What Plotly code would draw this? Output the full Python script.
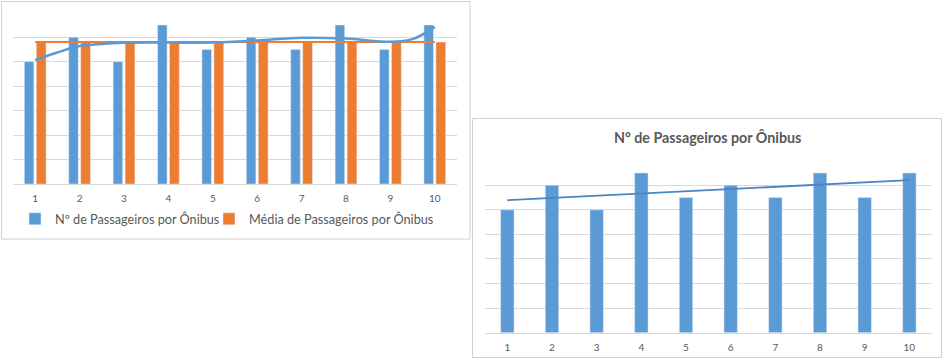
import plotly.graph_objects as go
import numpy as np

W, H = 944, 360

# ---- data ----
onibus = [1, 2, 3, 4, 5, 6, 7, 8, 9, 10]
passageiros = [10, 12, 10, 13, 11, 12, 11, 13, 11, 13]
media = [11.6, 11.6, 11.6, 11.6, 11.6, 11.6, 11.6, 11.6, 11.6, 11.6]
# polynomial trendline (chart 1)
curva_x = [1, 1.5, 2, 2.5, 3, 4, 5, 6, 7, 8, 9, 9.5, 10]
curva_y = [10.12, 10.75, 11.27, 11.45, 11.54, 11.56, 11.56, 11.73, 11.95, 11.89, 11.62, 11.84, 12.84]
tick_labels = ["1", "2", "3", "4", "5", "6", "7", "8", "9", "10"]

titulo = "Nº de Passageiros por Ônibus"
nome_serie1 = "Nº de Passageiros por Ônibus"
nome_serie2 = "Média de Passageiros por Ônibus"

AZUL = "#5B9BD5"
LARANJA = "#ED7D31"
CINZA_TXT = "#595959"
GRADE = "#d9d9d9"
FONT = "Lato, 'Open Sans', sans-serif"

# linear trendline (chart 2) from the data
coef = np.polyfit(onibus, passageiros, 1)
tend = [coef[0] * x + coef[1] for x in onibus]

def px(x):
    return x / W

def py(y):
    return 1 - y / H

fig = go.Figure()

# chart 1
fig.add_trace(go.Bar(x=onibus, y=passageiros, name=nome_serie1, marker_color=AZUL,
                     width=0.215, offset=-0.245, xaxis="x", yaxis="y", legend="legend"))
fig.add_trace(go.Bar(x=onibus, y=media, name=nome_serie2, marker_color=LARANJA,
                     width=0.22, offset=0.025, xaxis="x", yaxis="y", legend="legend2"))
fig.add_trace(go.Scatter(x=onibus, y=media, mode="lines", line=dict(color=LARANJA, width=2),
                         showlegend=False, xaxis="x", yaxis="y", hoverinfo="skip"))
fig.add_trace(go.Scatter(x=curva_x, y=curva_y, mode="lines",
                         line=dict(color=AZUL, width=2.5, shape="spline", smoothing=1.0),
                         showlegend=False, xaxis="x", yaxis="y", hoverinfo="skip"))

# chart 2
fig.add_trace(go.Bar(x=onibus, y=passageiros, name=nome_serie1, marker_color=AZUL,
                     width=0.3, offset=-0.15, xaxis="x2", yaxis="y2", showlegend=False))
fig.add_trace(go.Scatter(x=onibus, y=tend, mode="lines", line=dict(color="#4a86c0", width=1.8),
                         showlegend=False, xaxis="x2", yaxis="y2", hoverinfo="skip"))

xcommon = dict(tickmode="array", tickvals=onibus, ticktext=tick_labels, range=[0.5, 10.5],
               showgrid=False, zeroline=False, showline=True, linecolor=GRADE, linewidth=1,
               ticks="outside", ticklen=5, tickcolor="rgba(0,0,0,0)",
               tickfont=dict(family=FONT, size=10, color=CINZA_TXT))
ycommon = dict(range=[0, 14], dtick=2, showgrid=True, gridcolor=GRADE, gridwidth=1,
               zeroline=False, showticklabels=False, showline=False)

legend_common = dict(orientation="h", xanchor="left", yanchor="top",
                     font=dict(family=FONT, size=12.7, color=CINZA_TXT),
                     bgcolor="rgba(0,0,0,0)", itemwidth=30)

fig.update_layout(
    width=W, height=H,
    margin=dict(l=0, r=0, t=0, b=0),
    paper_bgcolor="white", plot_bgcolor="white",
    barmode="overlay",
    font=dict(family=FONT, color=CINZA_TXT),
    xaxis=dict(domain=[px(13), px(457)], anchor="y", **xcommon),
    yaxis=dict(domain=[py(184), py(12.7)], anchor="x", **ycommon),
    xaxis2=dict(domain=[px(485), px(931.7)], anchor="y2", **xcommon),
    yaxis2=dict(domain=[py(332.7), py(160.7)], anchor="x2", **ycommon),
    legend=dict(x=px(15), y=py(204), **legend_common),
    legend2=dict(x=px(209), y=py(204), **legend_common),
    showlegend=True,
    annotations=[dict(text="<b>" + titulo + "</b>", xref="paper", yref="paper",
                      x=px(707.5), y=py(137), xanchor="center", yanchor="middle",
                      showarrow=False, font=dict(family=FONT, size=14.3, color=CINZA_TXT))],
    shapes=[
        dict(type="rect", xref="paper", yref="paper", x0=px(1.5), x1=px(470), y0=py(239), y1=py(1.5),
             line=dict(color="#d0d0d0", width=1), fillcolor="rgba(0,0,0,0)", layer="below"),
        dict(type="rect", xref="paper", yref="paper", x0=px(472.5), x1=px(941.5), y0=py(357.5), y1=py(118.5),
             line=dict(color="#d0d0d0", width=1), fillcolor="rgba(0,0,0,0)", layer="below"),
    ],
)

fig.write_html("out.html", config={"displayModeBar": False},
               post_script="document.body.style.margin='0px';document.body.style.overflow='hidden';")
